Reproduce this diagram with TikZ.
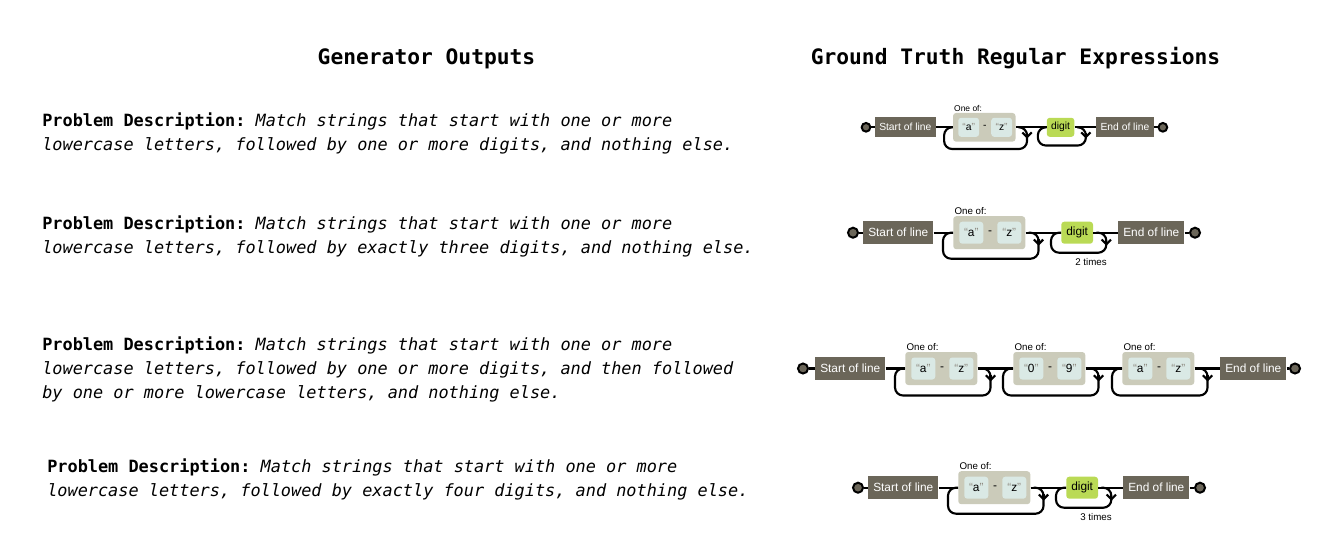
\documentclass[tikz,border=0pt]{standalone}
\usepackage{fontspec}
\setmonofont{DejaVu Sans Mono}
\newfontfamily\rrfont{Liberation Sans}
\usetikzlibrary{arrows.meta}
\definecolor{ancre}{HTML}{6B6659}
\definecolor{classe}{HTML}{CBCBBA}
\definecolor{litteral}{HTML}{DAE9E5}
\definecolor{echap}{HTML}{BADA55}
\definecolor{guillemet}{HTML}{908C83}
\tikzset{
  ligne/.style={line width=1.6pt},
  fleche/.style={line width=1.6pt,-{Straight Barb[length=3.5pt,width=7pt]}},
  bout/.style={circle,fill=ancre,draw=black,line width=1.5pt,minimum size=7.5pt,inner sep=0pt},
  ancrebox/.style={fill=ancre,text=white,font=\rrfont\fontsize{8.9}{10}\selectfont,
    minimum height=17pt,inner xsep=3.75pt,inner ysep=0pt},
  ensemble/.style={fill=classe,rounded corners=2.25pt,minimum width=54pt,minimum height=24.75pt,inner sep=0pt},
  lettre/.style={fill=litteral,rounded corners=2.25pt,minimum width=18pt,minimum height=16.5pt,
    inner sep=0pt,font=\rrfont\fontsize{8.9}{10}\selectfont},
  chiffre/.style={fill=echap,rounded corners=2.25pt,minimum height=16.5pt,inner xsep=3.75pt,
    inner ysep=0pt,font=\rrfont\fontsize{8.9}{10}\selectfont},
  tiret/.style={font=\rrfont\fontsize{8.9}{10}\selectfont,inner sep=0pt},
  petit/.style={font=\rrfont\fontsize{7.3}{8}\selectfont,inner sep=1pt},
  texte/.style={font=\ttfamily\fontsize{12.66}{18}\selectfont,align=left,inner sep=0pt},
  titre/.style={font=\ttfamily\bfseries\fontsize{15.94}{18}\selectfont,inner sep=0pt}
}
\newcommand{\guil}[1]{{\color{guillemet}“}#1{\color{guillemet}”}}
% boucle de repetition : noeud, profondeur
\newcommand{\boucle}[2]{%
  \path (#1.west|-o) ++(-10,0) coordinate (#1L);
  \path (#1.east|-o) ++(13,0) coordinate (#1R);
  \draw[ligne,rounded corners=6pt] (#1L) ++(10,0) -- (#1L) -- ++(0,#2) -| (#1R) -- ++(-10,0);
  \draw[fleche] (#1R) ++(0,6) -- ++(0,7);
}
\begin{document}
\begin{tikzpicture}[x=0.75pt,y=-0.75pt]
  \useasboundingbox (0,0) rectangle (1344,540);
  % Titres
  \node[titre] (t1) at (426.5,58.5) {Generator Outputs};
  \node[titre] (t2) at (1015.5,58.5) {Ground Truth Regular Expressions};

  % Descriptions
  \node[texte,anchor=west] (p1) at (42,133) {\textbf{Problem Description:} \textit{Match strings that start with one or more}\\
    \textit{lowercase letters, followed by one or more digits, and nothing else.}};
  \node[texte,anchor=west] (p2) at (42,236) {\textbf{Problem Description:} \textit{Match strings that start with one or more}\\
    \textit{lowercase letters, followed by exactly three digits, and nothing else.}};
  \node[texte,anchor=west] (p3) at (42,369) {\textbf{Problem Description:} \textit{Match strings that start with one or more}\\
    \textit{lowercase letters, followed by one or more digits, and then followed}\\
    \textit{by one or more lowercase letters, and nothing else.}};
  \node[texte,anchor=west] (p4) at (47,479) {\textbf{Problem Description:} \textit{Match strings that start with one or more}\\
    \textit{lowercase letters, followed by exactly four digits, and nothing else.}};

  % Diagramme 1
  \begin{scope}[shift={(866,127.3)},scale=0.868,transform shape]
    \coordinate (o) at (0,0);
    \node[bout] (a-c0) at (0,0) {};
    \node[ancrebox,anchor=west] (a-deb) at (10,0) {Start of line};
    \node[ensemble,anchor=west,label={[petit,anchor=south west]north west:One of:}] (a-g) at (100,0) {};
    \node[lettre,anchor=west] (a-ga) at (106,0) {\guil{a}};
    \node[tiret] (a-gt) at (137,0) {-};
    \node[lettre,anchor=west] (a-gz) at (144,0) {\guil{z}};
    \node[chiffre,anchor=west] (a-dg) at (208,0) {digit};
    \node[ancrebox,anchor=west] (a-fin) at (265,0) {End of line};
    \node[bout] (a-c1) at (342,0) {};
    \draw[ligne] (a-c0) -- (a-deb) (a-deb) -- (a-g) (a-g) -- (a-dg) (a-dg) -- (a-fin) (a-fin) -- (a-c1);
    \boucle{a-g}{25}
    \boucle{a-dg}{21}
  \end{scope}

  % Diagramme 2
  \begin{scope}[shift={(853,232.7)},transform shape]
    \coordinate (o) at (0,0);
    \node[bout] (b-c0) at (0,0) {};
    \node[ancrebox,anchor=west] (b-deb) at (10,0) {Start of line};
    \node[ensemble,anchor=west,label={[petit,anchor=south west]north west:One of:}] (b-g) at (100,0) {};
    \node[lettre,anchor=west] (b-ga) at (106,0) {\guil{a}};
    \node[tiret] (b-gt) at (137,0) {-};
    \node[lettre,anchor=west] (b-gz) at (144,0) {\guil{z}};
    \node[chiffre,anchor=west] (b-dg) at (208,0) {digit};
    \node[ancrebox,anchor=west] (b-fin) at (265,0) {End of line};
    \node[bout] (b-c1) at (342,0) {};
    \draw[ligne] (b-c0) -- (b-deb) (b-deb) -- (b-g) (b-g) -- (b-dg) (b-dg) -- (b-fin) (b-fin) -- (b-c1);
    \boucle{b-g}{26}
    \boucle{b-dg}{20}
    \path (b-dgR) ++(2,29) node[petit,anchor=east] (b-n) {2 times};
  \end{scope}

  % Diagramme 3
  \begin{scope}[shift={(803,368.5)},transform shape]
    \coordinate (o) at (0,0);
    \node[bout] (c-c0) at (0,0) {};
    \node[ancrebox,anchor=west] (c-deb) at (12,0) {Start of line};
    \node[ensemble,anchor=west,label={[petit,anchor=south west]north west:One of:}] (c-g1) at (102,0) {};
    \node[lettre,anchor=west] (c-g1a) at (108,0) {\guil{a}};
    \node[tiret] (c-g1t) at (139,0) {-};
    \node[lettre,anchor=west] (c-g1z) at (146,0) {\guil{z}};
    \node[ensemble,anchor=west,label={[petit,anchor=south west]north west:One of:}] (c-g2) at (210,0) {};
    \node[lettre,anchor=west] (c-g2a) at (216,0) {\guil{0}};
    \node[tiret] (c-g2t) at (247,0) {-};
    \node[lettre,anchor=west] (c-g2z) at (254,0) {\guil{9}};
    \node[ensemble,anchor=west,label={[petit,anchor=south west]north west:One of:}] (c-g3) at (319,0) {};
    \node[lettre,anchor=west] (c-g3a) at (325,0) {\guil{a}};
    \node[tiret] (c-g3t) at (356,0) {-};
    \node[lettre,anchor=west] (c-g3z) at (363,0) {\guil{z}};
    \node[ancrebox,anchor=west] (c-fin) at (417,0) {End of line};
    \node[bout] (c-c1) at (492,0) {};
    \draw[ligne] (c-c0) -- (c-deb) (c-deb) -- (c-g1) (c-g1) -- (c-g2) (c-g2) -- (c-g3) (c-g3) -- (c-fin) (c-fin) -- (c-c1);
    \boucle{c-g1}{27}
    \boucle{c-g2}{27}
    \boucle{c-g3}{27}
  \end{scope}

  % Diagramme 4
  \begin{scope}[shift={(858,487.7)},transform shape]
    \coordinate (o) at (0,0);
    \node[bout] (d-c0) at (0,0) {};
    \node[ancrebox,anchor=west] (d-deb) at (10,0) {Start of line};
    \node[ensemble,anchor=west,label={[petit,anchor=south west]north west:One of:}] (d-g) at (100,0) {};
    \node[lettre,anchor=west] (d-ga) at (106,0) {\guil{a}};
    \node[tiret] (d-gt) at (137,0) {-};
    \node[lettre,anchor=west] (d-gz) at (144,0) {\guil{z}};
    \node[chiffre,anchor=west] (d-dg) at (208,0) {digit};
    \node[ancrebox,anchor=west] (d-fin) at (265,0) {End of line};
    \node[bout] (d-c1) at (342,0) {};
    \draw[ligne] (d-c0) -- (d-deb) (d-deb) -- (d-g) (d-g) -- (d-dg) (d-dg) -- (d-fin) (d-fin) -- (d-c1);
    \boucle{d-g}{26}
    \boucle{d-dg}{20}
    \path (d-dgR) ++(2,29) node[petit,anchor=east] (d-n) {3 times};
  \end{scope}
\end{tikzpicture}
\end{document}
